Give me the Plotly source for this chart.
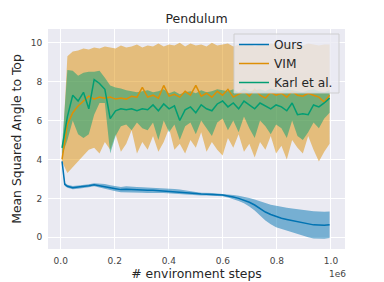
import numpy as np
import plotly.graph_objects as go

# x grid (fraction of 1e6 environment steps)
steps = np.linspace(0.005, 0.995, 51)

vim_mean = [4.0, 5.8, 6.4, 6.75, 7.0, 7.25, 7.1, 7.2, 7.15, 7.2, 7.1, 7.15, 7.1, 7.25, 7.2, 7.7, 7.2, 7.3, 7.15, 7.8,
            7.25, 7.35, 7.2, 7.5, 7.3, 7.8, 7.25, 7.4, 7.2, 7.5, 7.3, 7.6, 7.2, 7.35, 7.5, 7.25, 7.6, 7.3, 7.15, 7.45,
            7.3, 7.4, 7.2, 7.5, 7.3, 7.25, 7.4, 7.3, 7.2, 6.95, 7.3]
vim_upper = [4.1, 9.3, 9.55, 9.6, 9.7, 9.65, 9.75, 9.7, 9.8, 9.75, 9.7, 9.85, 9.75, 9.8, 9.9, 9.75, 9.85, 9.8, 9.95, 9.8,
             9.9, 9.85, 10.0, 9.8, 9.95, 9.85, 9.9, 9.8, 10.0, 9.85, 9.9, 9.95, 9.8, 9.9, 9.85, 9.95, 9.8, 9.9, 9.85, 9.95,
             9.9, 9.85, 9.95, 9.8, 9.9, 9.85, 9.95, 9.9, 9.85, 9.9, 9.9]
vim_lower = [3.9, 3.3, 3.6, 3.9, 4.2, 4.5, 4.6, 4.3, 4.9, 4.5, 5.3, 4.4, 4.8, 5.5, 4.3, 4.9, 4.5, 5.2, 4.4, 4.9,
             5.6, 4.5, 4.8, 4.3, 5.0, 4.6, 5.4, 4.4, 4.9, 4.5, 4.2, 5.1, 4.6, 5.3, 4.4, 4.8, 4.1, 4.9, 4.5, 5.2,
             4.3, 4.7, 4.0, 5.0, 4.6, 4.3, 5.2, 4.5, 3.9, 4.4, 4.8]

karl_mean = [4.6, 6.2, 7.3, 7.0, 7.45, 6.6, 8.1, 7.9, 7.6, 6.1, 6.5, 6.6, 6.55, 6.6, 6.5, 6.6, 6.55, 6.8, 6.5, 6.85,
             6.6, 6.75, 6.0, 6.55, 6.7, 6.4, 6.8, 6.6, 6.5, 6.85, 7.0, 6.7, 6.9, 6.6, 7.0, 6.8, 6.6, 6.9, 6.75, 6.6,
             6.8, 6.7, 6.5, 6.9, 6.3, 6.35, 6.3, 6.8, 6.7, 6.9, 7.15]
karl_upper = [4.7, 8.6, 8.55, 8.3, 8.45, 8.5, 8.5, 8.55, 8.2, 7.8, 7.7, 7.65, 7.55, 7.5, 7.45, 7.5, 7.55, 7.45, 7.5, 7.6,
              7.4, 7.5, 7.35, 7.45, 7.5, 7.4, 7.55, 7.45, 7.5, 7.6, 7.55, 7.5, 7.6, 7.45, 7.65, 7.5, 7.55, 7.6, 7.5, 7.65,
              7.55, 7.5, 7.6, 7.55, 7.5, 7.45, 7.55, 7.6, 7.5, 7.45, 7.55]
karl_lower = [4.2, 5.0, 6.0, 5.3, 5.1, 5.3, 6.3, 6.9, 6.9, 4.3, 5.2, 5.7, 5.8, 5.5, 5.9, 5.6, 5.5, 5.9, 5.0, 6.0,
              5.4, 5.8, 5.0, 5.7, 5.9, 5.3, 6.0, 5.6, 5.2, 5.9, 6.1, 5.5, 6.0, 5.4, 6.2, 5.6, 5.1, 6.0, 5.7, 5.3,
              5.8, 5.6, 5.1, 6.0, 5.2, 5.0, 5.4, 5.9, 5.6, 6.1, 6.4]

ours_steps = [0.005, 0.015] + list(steps[1:])
ours_mean = [3.9, 2.72, 2.62, 2.55, 2.58, 2.6, 2.65, 2.7, 2.66, 2.62, 2.55, 2.5, 2.45, 2.47, 2.45, 2.44, 2.43, 2.42,
             2.42, 2.4, 2.39, 2.38, 2.36, 2.34, 2.32, 2.28, 2.25, 2.22, 2.22, 2.2, 2.19, 2.17, 2.13, 2.07, 2.0, 1.92,
             1.8, 1.66, 1.48, 1.3, 1.17, 1.07, 0.98, 0.92, 0.86, 0.8, 0.74, 0.68, 0.64, 0.63, 0.62, 0.65]
ours_spread = [0.05, 0.08, 0.08, 0.08, 0.08, 0.08, 0.08, 0.08, 0.1, 0.12, 0.13, 0.14, 0.14, 0.15, 0.14, 0.15, 0.14, 0.14,
               0.13, 0.13, 0.12, 0.12, 0.12, 0.11, 0.1, 0.1, 0.08, 0.07, 0.07, 0.07, 0.06, 0.06, 0.08, 0.1, 0.13, 0.17,
               0.22, 0.28, 0.36, 0.44, 0.5, 0.55, 0.58, 0.6, 0.62, 0.64, 0.66, 0.68, 0.7, 0.7, 0.69, 0.68]

x_ticks = [0.0, 0.2, 0.4, 0.6, 0.8, 1.0]
x_tick_text = ["0.0", "0.2", "0.4", "0.6", "0.8", "1.0"]
y_ticks = [0, 2, 4, 6, 8, 10]

BLUE = "#0173b2"
ORANGE = "#de8f05"
GREEN = "#029e73"

def band(xs, lo, hi, color):
    xs = [v * 1e6 for v in xs]
    return go.Scatter(x=list(xs) + list(xs)[::-1], y=list(hi) + list(lo)[::-1],
                      fill="toself", fillcolor=color, line=dict(width=0),
                      mode="lines", hoverinfo="skip", showlegend=False)

ours_up = [m + s for m, s in zip(ours_mean, ours_spread)]
ours_lo = [m - s for m, s in zip(ours_mean, ours_spread)]

fig = go.Figure()
fig.add_trace(band(ours_steps, ours_lo, ours_up, "rgba(1,115,178,0.5)"))
fig.add_trace(band(steps, vim_lower, vim_upper, "rgba(222,143,5,0.5)"))
fig.add_trace(band(steps, karl_lower, karl_upper, "rgba(2,158,115,0.5)"))

fig.add_trace(go.Scatter(x=[v * 1e6 for v in ours_steps], y=ours_mean, mode="lines", name="Ours",
                         line=dict(color=BLUE, width=1.5)))
fig.add_trace(go.Scatter(x=steps * 1e6, y=vim_mean, mode="lines", name="VIM",
                         line=dict(color=ORANGE, width=1.5)))
fig.add_trace(go.Scatter(x=steps * 1e6, y=karl_mean, mode="lines", name="Karl et al.",
                         line=dict(color=GREEN, width=1.5)))

# page body has an 8px margin, so the figure is 8px smaller and everything is shifted up-left by 8px
W, H = 376, 274
L, T, R, B = 40, 21, 337, 241
PW, PH = R - L, B - T
FONT = "DejaVu Sans"

# legend frame (drawn as a shape so its size matches)
bx0, bx1, by0, by1 = 226, 331, 26, 85
fig.add_shape(type="rect", xref="paper", yref="paper",
              x0=(bx0 - L) / PW, x1=(bx1 - L) / PW, y0=1 - (by1 - T) / PH, y1=1 - (by0 - T) / PH,
              fillcolor="rgba(234,234,242,0.8)", line=dict(color="rgba(204,204,204,0.9)", width=1),
              layer="above")

fig.update_layout(
    width=W, height=H,
    margin=dict(l=L, r=W - R, t=T, b=H - B, autoexpand=False),
    paper_bgcolor="white", plot_bgcolor="#eaeaf2",
    font=dict(family=FONT, color="#262626"),
    title=dict(text="Pendulum", x=(L + R) / 2 / W, xanchor="center", y=1 - 11 / H, yanchor="middle",
               font=dict(size=12.5, color="#262626"), automargin=False),
    legend=dict(x=(bx0 - L) / PW, xanchor="left", y=1 - (by0 - 4 - T) / PH, yanchor="top",
                bgcolor="rgba(0,0,0,0)", borderwidth=0,
                font=dict(size=12.2, color="#262626"), tracegroupgap=0),
    showlegend=True,
)
fig.update_xaxes(range=[-0.047e6, 1.052e6], tickvals=[v * 1e6 for v in x_ticks], ticktext=x_tick_text,
                 automargin=False,
                 showgrid=True, gridcolor="white", gridwidth=1, zeroline=False, showline=False,
                 ticks="outside", ticklen=3, tickcolor="rgba(0,0,0,0)",
                 tickfont=dict(size=9, color="#444"),
                 title=dict(text="# environment steps", font=dict(size=12.4, color="#262626"), standoff=4))
fig.update_yaxes(range=[-0.6, 10.7], tickvals=y_ticks, automargin=False,
                 showgrid=True, gridcolor="white", gridwidth=1, zeroline=False, showline=False,
                 ticks="outside", ticklen=3, tickcolor="rgba(0,0,0,0)",
                 tickfont=dict(size=9, color="#444"),
                 title=dict(text="Mean Squared Angle to Top", font=dict(size=12.4, color="#262626"), standoff=6))
fig.add_annotation(text="1e6", xref="paper", yref="paper", x=(329 - L) / PW, y=-(266 - B) / PH,
                   xanchor="center", yanchor="middle", showarrow=False, font=dict(size=9, color="#444"))

fig.write_html("out.html")
